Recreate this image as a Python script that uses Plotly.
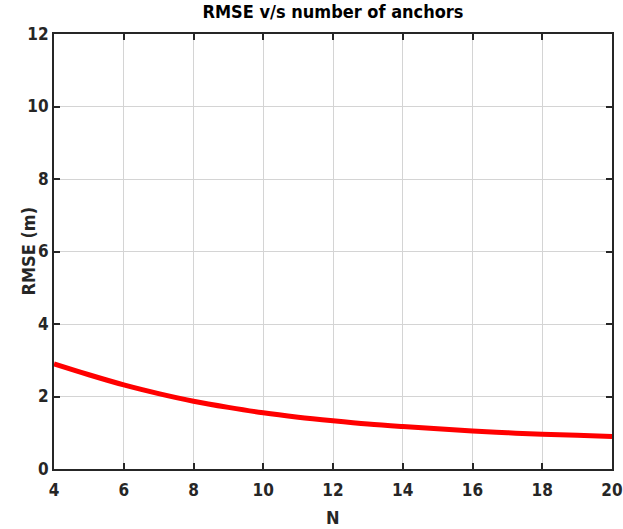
import plotly.graph_objects as go

N = [4, 5, 6, 7, 8, 9, 10, 11, 12, 13, 14, 15, 16, 17, 18, 19, 20]
rmse = [2.90, 2.60, 2.32, 2.08, 1.87, 1.70, 1.55, 1.43, 1.33, 1.24, 1.17, 1.11, 1.05, 1.00, 0.96, 0.93, 0.90]
x_ticks = [4, 6, 8, 10, 12, 14, 16, 18, 20]
y_ticks = [0, 2, 4, 6, 8, 10, 12]

font_family = "DejaVu Sans Condensed, Liberation Sans Narrow, Liberation Sans, sans-serif"

fig = go.Figure()
fig.add_trace(go.Scatter(x=N, y=rmse, mode="lines",
                         line=dict(color="#ff0000", width=5, shape="spline"),
                         showlegend=False))

axis_common = dict(showline=True, linecolor="#262626", linewidth=2, mirror="ticks",
                   ticks="inside", ticklen=6, tickwidth=2, tickcolor="#262626",
                   showgrid=True, gridcolor="#d4d4d4", gridwidth=1, zeroline=False,
                   automargin=False,
                   tickfont=dict(family=font_family, size=17, color="#262626"))

fig.update_layout(
    width=623, height=529,
    margin=dict(l=54, r=11, t=34, b=60),
    paper_bgcolor="white", plot_bgcolor="white",
    title=dict(text="<b>RMSE v/s number of anchors</b>", x=0.5, xref="paper", xanchor="center",
               y=0.99, yanchor="top",
               font=dict(family=font_family, size=18, color="black")),
    xaxis=dict(range=[4, 20], tickvals=x_ticks,
               ticktext=[f"<b>{v}</b>" for v in x_ticks],
               ticklabelstandoff=5,
               **axis_common),
    yaxis=dict(range=[0, 12], tickvals=y_ticks,
               ticktext=[f"<b>{v}</b>" for v in y_ticks],
               **axis_common),
    annotations=[
        dict(text="<b>N</b>", xref="paper", yref="paper", x=0.5, y=0,
             xanchor="center", yanchor="middle", yshift=-48, showarrow=False,
             font=dict(family=font_family, size=18, color="#262626")),
        dict(text="<b>RMSE (m)</b>", xref="paper", yref="paper", x=0, y=0.5,
             xanchor="center", yanchor="middle", xshift=-26, textangle=-90, showarrow=False,
             font=dict(family=font_family, size=18, color="#262626")),
    ],
)

fig.write_html("out.html")
